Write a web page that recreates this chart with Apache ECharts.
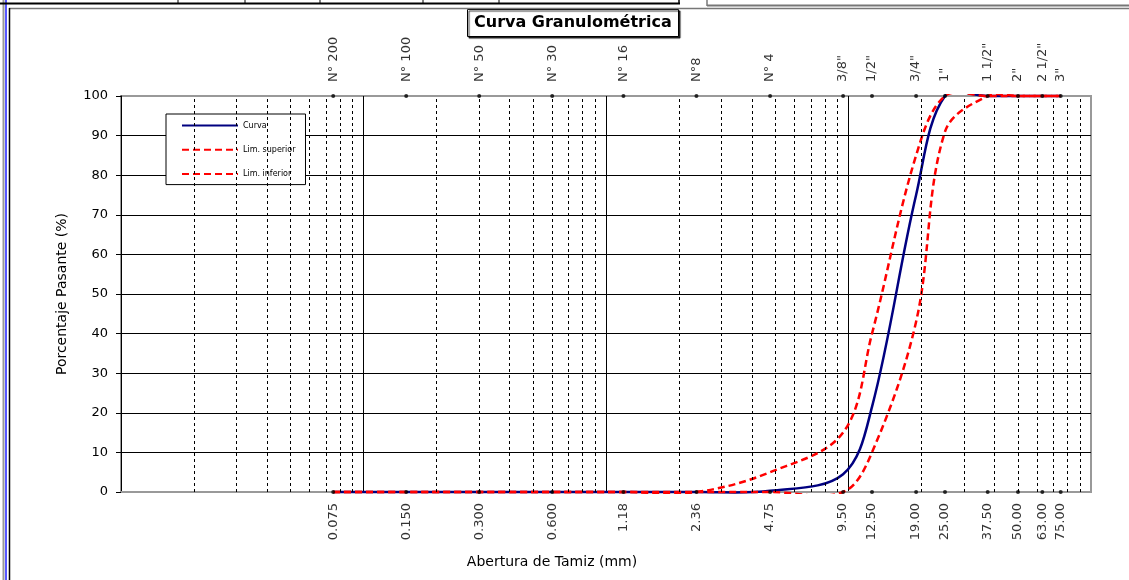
<!DOCTYPE html>
<html><head><meta charset="utf-8">
<script src="https://cdn.jsdelivr.net/npm/echarts/dist/echarts.min.js"></script>
<style>html,body{margin:0;padding:0;background:#fff}#c{width:1129px;height:580px}</style>
</head><body><div id="c"></div>
<script>
// Sieve openings (mm), names and printed labels
const sieveSizes = [0.075, 0.15, 0.3, 0.6, 1.18, 2.36, 4.75, 9.5, 12.5, 19, 25, 37.5, 50, 63, 75];
const sieveNames = ['N° 200', 'N° 100', 'N° 50', 'N° 30', 'N° 16', 'N°8', 'N° 4', '3/8"', '1/2"', '3/4"', '1"', '1 1/2"', '2"', '2 1/2"', '3"'];
const sizeLabels = ['0.075', '0.150', '0.300', '0.600', '1.18', '2.36', '4.75', '9.50', '12.50', '19.00', '25.00', '37.50', '50.00', '63.00', '75.00'];
// % passing
const curva = [0, 0, 0, 0, 0, 0, 0.3, 4.5, 21.5, 75, 100, 100, 100, 100, 100];
const limSuperior = [0, 0, 0, 0, 0, 0, 5, 15, 40, 85, 100, 100, 100, 100, 100];
const limInferior = [0, 0, 0, 0, 0, 0, 0, 0, 10, 43, 91, 100, 100, 100, 100];
// log-grid minor lines
const minorLines = [0.02, 0.03, 0.04, 0.05, 0.06, 0.07, 0.08, 0.09,
  0.2, 0.3, 0.4, 0.5, 0.6, 0.7, 0.8, 0.9,
  2, 3, 4, 5, 6, 7, 8, 9,
  20, 30, 40, 50, 60, 70, 80, 90];
const yTicks = [0, 10, 20, 30, 40, 50, 60, 70, 80, 90, 100];

const FONT = 'DejaVu Sans';
const BLUE = '#000080', RED = '#ff0000';
const DASH = [7, 4];
const pairs = arr => sieveSizes.map((s, i) => [s, arr[i]]);

// Smoothed curve (Excel-like, unconstrained) through the data points, placed by the axes
function curveSeries(name, values, color, dash, z) {
  return {
    name, type: 'custom', coordinateSystem: 'cartesian2d', clip: false, z, silent: true,
    data: pairs(values),
    encode: {x: 0, y: 1},
    renderItem: (params, api) => {
      if (params.dataIndex !== 0) return null;
      const cs = params.coordSys;
      const pts = values.map((v, i) => api.coord([sieveSizes[i], v]));
      return {
        type: 'polyline',
        shape: {points: pts, smooth: 0.35},
        clipPath: {type: 'rect', shape: {x: cs.x - 2, y: cs.y - 2, width: cs.width + 4, height: cs.height + 4}},
        style: {stroke: color, lineWidth: 2.5, fill: null, lineDash: dash}
      };
    }
  };
}
// Legend carriers (line look only)
function legendSeries(name, color, dash) {
  return {name, type: 'line', data: [], symbol: 'none',
    lineStyle: {color, width: 2, type: dash || 'solid'}, itemStyle: {color}};
}

const chart = echarts.init(document.getElementById('c'), null, {renderer: 'canvas'});
chart.setOption({
  animation: false,
  backgroundColor: '#fff',
  textStyle: {fontFamily: FONT, color: '#000'},
  title: {
    text: 'Curva Granulométrica',
    left: 467, top: 9,
    padding: [6, 7, 6, 7],
    borderColor: '#000', borderWidth: 1,
    backgroundColor: '#fff',
    shadowColor: 'rgba(0,0,0,0.8)', shadowOffsetX: 1.5, shadowOffsetY: 1.5, shadowBlur: 1,
    textStyle: {fontFamily: FONT, fontSize: 16, fontWeight: 'bold', color: '#000'}
  },
  legend: {
    data: ['Curva', 'Lim. superior', 'Lim. inferior'],
    orient: 'vertical',
    left: 166, top: 114,
    itemWidth: 56, itemHeight: 14, itemGap: 13,
    padding: [6, 10, 5, 15],
    borderColor: '#000', borderWidth: 1,
    backgroundColor: '#fff',
    selectedMode: false,
    itemStyle: {opacity: 0},
    textStyle: {fontFamily: FONT, fontSize: 8, color: '#000'}
  },
  grid: {left: 121, right: 38, top: 96, bottom: 88, show: true, borderColor: '#999', borderWidth: 2, backgroundColor: '#fff'},
  xAxis: {
    type: 'log', logBase: 10, min: 0.01, max: 100,
    name: 'Abertura de Tamiz (mm)', nameLocation: 'middle', nameGap: 63,
    nameTextStyle: {fontFamily: FONT, fontSize: 14, color: '#000', padding: [0, 108, 0, 0]},
    axisLine: {show: true, lineStyle: {color: '#999', width: 2}},
    axisTick: {show: false},
    axisLabel: {show: false},
    splitLine: {show: true, lineStyle: {color: ['#000', '#000', '#000', '#000', '#999'], width: 1}}
  },
  yAxis: {
    type: 'value', min: 0, max: 100, interval: 10,
    name: 'Porcentaje Pasante (%)', nameLocation: 'middle', nameGap: 52,
    nameTextStyle: {fontFamily: FONT, fontSize: 14, color: '#000'},
    axisLine: {show: true, lineStyle: {color: '#000', width: 1}},
    axisTick: {show: true, length: 5, lineStyle: {color: '#000'}},
    axisLabel: {fontFamily: FONT, fontSize: 13, color: '#000', margin: 13},
    splitLine: {show: true, lineStyle: {color: yTicks.map((v, i) => (i === 0 || i === yTicks.length - 1) ? '#999' : '#000'), width: 1}}
  },
  series: [
    legendSeries('Curva', BLUE),
    legendSeries('Lim. superior', RED, DASH),
    legendSeries('Lim. inferior', RED, DASH),
    {
      name: 'minor', type: 'line', data: [], silent: true, z: 1,
      markLine: {
        silent: true, symbol: ['none', 'none'], label: {show: false},
        lineStyle: {type: [3, 3], color: '#000', width: 1},
        data: minorLines.map(v => ({xAxis: v}))
      }
    },
    curveSeries('Curva', curva, BLUE, null, 3),
    curveSeries('Lim. superior', limSuperior, RED, DASH, 4),
    curveSeries('Lim. inferior', limInferior, RED, DASH, 4),
    {
      name: 'bottomMarks', type: 'scatter', symbolSize: 4, z: 5, silent: true,
      itemStyle: {color: '#000'},
      data: sieveSizes.map((s, i) => [s, 0, sizeLabels[i]]),
      label: {show: true, position: 'bottom', distance: 9, rotate: 90, align: 'right', verticalAlign: 'middle',
        fontFamily: FONT, fontSize: 13, color: '#000', formatter: p => p.value[2]}
    },
    {
      name: 'topMarks', type: 'scatter', symbolSize: 4, z: 5, silent: true,
      itemStyle: {color: '#000'},
      data: sieveSizes.map((s, i) => [s, 100, sieveNames[i]]),
      label: {show: true, position: 'top', distance: 12, rotate: 90, align: 'left', verticalAlign: 'middle',
        fontFamily: FONT, fontSize: 13, color: '#000', formatter: p => p.value[2]}
    }
  ],
  graphic: [
    // worksheet frame decorations
    {type: 'line', shape: {x1: 3.5, y1: 0, x2: 3.5, y2: 580}, style: {stroke: '#999', lineWidth: 2}, z: 10},
    {type: 'line', shape: {x1: 6, y1: 0, x2: 6, y2: 580}, style: {stroke: '#2020ff', lineWidth: 1.5}, z: 10},
    {type: 'line', shape: {x1: 9, y1: 8.5, x2: 1129, y2: 8.5}, style: {stroke: '#777', lineWidth: 1.5}, z: 10},
    {type: 'line', shape: {x1: 9.5, y1: 8, x2: 9.5, y2: 580}, style: {stroke: '#000', lineWidth: 1.5}, z: 10},
    {type: 'line', shape: {x1: 0, y1: 3.5, x2: 680, y2: 3.5}, style: {stroke: '#000', lineWidth: 2}, z: 10},
    {type: 'line', shape: {x1: 178, y1: 0, x2: 178, y2: 4}, style: {stroke: '#000', lineWidth: 1}, z: 10},
    {type: 'line', shape: {x1: 245, y1: 0, x2: 245, y2: 4}, style: {stroke: '#000', lineWidth: 1}, z: 10},
    {type: 'line', shape: {x1: 320, y1: 0, x2: 320, y2: 4}, style: {stroke: '#000', lineWidth: 1}, z: 10},
    {type: 'line', shape: {x1: 423, y1: 0, x2: 423, y2: 4}, style: {stroke: '#000', lineWidth: 1}, z: 10},
    {type: 'line', shape: {x1: 499, y1: 0, x2: 499, y2: 4}, style: {stroke: '#000', lineWidth: 1}, z: 10},
    {type: 'line', shape: {x1: 679, y1: 0, x2: 679, y2: 4}, style: {stroke: '#000', lineWidth: 1.5}, z: 10},
    {type: 'line', shape: {x1: 707, y1: 0, x2: 707, y2: 6}, style: {stroke: '#777', lineWidth: 1.5}, z: 10},
    {type: 'line', shape: {x1: 707, y1: 5.5, x2: 1129, y2: 5.5}, style: {stroke: '#777', lineWidth: 2}, z: 10}
  ]
});
</script>
</body></html>
